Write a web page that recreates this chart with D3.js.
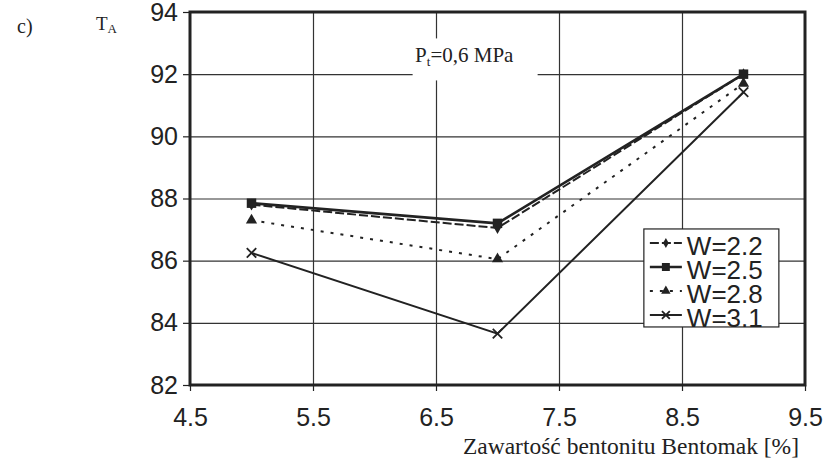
<!DOCTYPE html>
<html>
<head>
<meta charset="utf-8">
<script src="https://cdn.jsdelivr.net/npm/d3@7"></script>
<style>
  body { margin: 0; background: #fff; }
  text { fill: #222; }
</style>
</head>
<body>
<div id="chart"></div>
<script>
// bentonite content [%]
var xValues = [5, 7, 9];
var seriesNames = ["W=2.2", "W=2.5", "W=2.8", "W=3.1"];
var w22 = [87.8, 87.05, 92.0];
var w25 = [87.85, 87.2, 92.0];
var w28 = [87.3, 86.05, 91.7];
var w31 = [86.25, 83.65, 91.42];

var xTicks = [4.5, 5.5, 6.5, 7.5, 8.5, 9.5];
var yTicks = [82, 84, 86, 88, 90, 92, 94];

var ink = "#222";

var margin = {left: 190, top: 12, right: 22, bottom: 78},
    width = 827 - margin.left - margin.right,
    height = 463 - margin.top - margin.bottom;

var x = d3.scaleLinear().domain([4.5, 9.5]).range([0, width]);
var y = d3.scaleLinear().domain([82, 94]).range([height, 0]);

var svg = d3.select("#chart").append("svg")
    .attr("width", 827)
    .attr("height", 463);

var g = svg.append("g")
    .attr("transform", "translate(" + margin.left + "," + margin.top + ")");

// grid
g.append("g")
    .attr("transform", "translate(0," + height + ")")
    .call(d3.axisBottom(x).tickValues(xTicks.slice(1, -1)).tickSize(-height).tickFormat(""))
    .call(function(s) { s.select(".domain").remove(); })
    .selectAll("line").attr("stroke", "#333").attr("stroke-width", 1.2);

g.append("g")
    .call(d3.axisLeft(y).tickValues(yTicks.slice(1, -1)).tickSize(-width).tickFormat(""))
    .call(function(s) { s.select(".domain").remove(); })
    .selectAll("line").attr("stroke", "#333").attr("stroke-width", 1.2);

// axes with outward ticks
var xAxis = g.append("g")
    .attr("transform", "translate(0," + height + ")")
    .call(d3.axisBottom(x).tickValues(xTicks).tickSize(6).tickPadding(17).tickFormat(d3.format(".1f")));
var yAxis = g.append("g")
    .call(d3.axisLeft(y).tickValues(yTicks).tickSize(7).tickPadding(5).tickFormat(d3.format("d")));

[xAxis, yAxis].forEach(function(a) {
    a.select(".domain").remove();
    a.selectAll("line").attr("stroke", ink).attr("stroke-width", 1.2);
    a.selectAll("text")
        .style("font-family", "'Liberation Sans', Arial, sans-serif")
        .style("font-size", "25px")
        .attr("fill", ink);
});

// plot frame
g.append("rect")
    .attr("width", width)
    .attr("height", height)
    .attr("fill", "none")
    .attr("stroke", ink)
    .attr("stroke-width", 3);

// P label box
var pLabel = g.append("g");
pLabel.append("rect")
    .attr("x", x(6.31)).attr("y", y(93.15))
    .attr("width", 125).attr("height", 42)
    .attr("fill", "#fff");
var pText = pLabel.append("text")
    .attr("x", x(6.33)).attr("y", y(92.4))
    .style("font-family", "'Liberation Serif', 'Times New Roman', serif")
    .style("font-size", "21px");
pText.append("tspan").text("P");
pText.append("tspan").attr("dy", 4).style("font-size", "13px").text("t");
pText.append("tspan").attr("dy", -4).text("=0,6 MPa");

// series
var series = [
    {name: seriesNames[0], values: w22, width: 2, dash: "9,3", marker: d3.symbolDiamond, size: 40},
    {name: seriesNames[1], values: w25, width: 2.6, dash: null, marker: d3.symbolSquare, size: 90},
    {name: seriesNames[2], values: w28, width: 2, dash: "3,7", marker: d3.symbolTriangle, size: 55},
    {name: seriesNames[3], values: w31, width: 2, dash: null, marker: d3.symbolX, size: 60}
];

var line = d3.line()
    .x(function(d, i) { return x(xValues[i]); })
    .y(function(d) { return y(d); });

function drawMarker(sel, s) {
    var isX = s.marker === d3.symbolX;
    sel.attr("d", d3.symbol().type(s.marker).size(s.size))
        .attr("fill", isX ? "none" : ink)
        .attr("stroke", ink)
        .attr("stroke-width", isX ? 1.8 : 0);
}

series.forEach(function(s) {
    g.append("path")
        .datum(s.values)
        .attr("fill", "none")
        .attr("stroke", ink)
        .attr("stroke-width", s.width)
        .attr("stroke-dasharray", s.dash)
        .attr("d", line);
    g.selectAll(null)
        .data(s.values)
        .enter().append("path")
        .attr("transform", function(d, i) { return "translate(" + x(xValues[i]) + "," + y(d) + ")"; })
        .call(drawMarker, s);
});

// legend
var legend = g.append("g")
    .attr("transform", "translate(" + x(8.19) + "," + y(87.02) + ")");
svg.append("clipPath").attr("id", "legclip")
    .append("rect").attr("width", 135).attr("height", 98);
legend.append("rect")
    .attr("width", 135).attr("height", 98)
    .attr("fill", "#fff")
    .attr("stroke", ink)
    .attr("stroke-width", 1.2);
var rows = legend.append("g").attr("clip-path", "url(#legclip)")
    .selectAll("g").data(series).enter().append("g")
    .attr("transform", function(d, i) { return "translate(0," + (14 + i * 24) + ")"; });
rows.append("line")
    .attr("x1", 6).attr("x2", 38)
    .attr("stroke", ink)
    .attr("stroke-width", function(d) { return d.width; })
    .attr("stroke-dasharray", function(d) { return d.dash; });
rows.append("path")
    .attr("transform", "translate(22,0)")
    .each(function(d) {
        d3.select(this).call(drawMarker, {marker: d.marker, size: d.size * 0.7});
    });
rows.append("text")
    .attr("x", 43).attr("y", 12)
    .style("font-family", "'Liberation Sans', Arial, sans-serif")
    .style("font-size", "26px")
    .text(function(d) { return d.name; });

// titles
svg.append("text")
    .attr("x", 17).attr("y", 33)
    .style("font-family", "'Liberation Serif', 'Times New Roman', serif")
    .style("font-size", "20px")
    .text("c)");
var ta = svg.append("text")
    .attr("x", 96).attr("y", 30)
    .style("font-family", "'Liberation Serif', 'Times New Roman', serif")
    .style("font-size", "19px");
ta.append("tspan").text("T");
ta.append("tspan").attr("dy", 3).style("font-size", "13px").text("A");

svg.append("text")
    .attr("x", 799).attr("y", 454)
    .attr("text-anchor", "end")
    .style("font-family", "'Liberation Serif', 'Times New Roman', serif")
    .style("font-size", "23.5px")
    .text("Zawartość bentonitu Bentomak [%]");
</script>
</body>
</html>
